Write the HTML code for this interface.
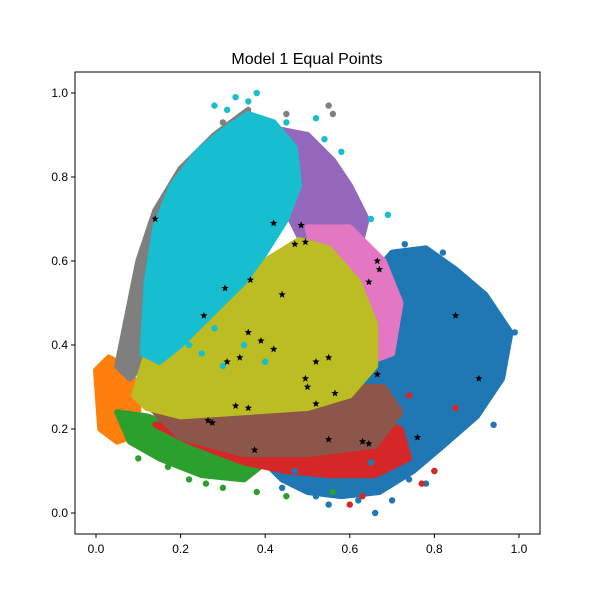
<!DOCTYPE html>
<html><head><meta charset="utf-8"><style>
body{margin:0;background:#fff}
svg{display:block;font-family:"Liberation Sans","DejaVu Sans",sans-serif}
</style></head><body>
<svg id="chart" width="600" height="600">
<rect width="600" height="600" fill="#fff"/>
<text x="307" y="64" font-size="16" text-anchor="middle">Model 1 Equal Points</text>
<g id="plot"></g>
<g id="axes"></g>
</svg>
<script>
const clusterNames=["blue","orange","green","red","purple","brown","pink","gray","olive","cyan"];
const clusterColors=["#1f77b4","#ff7f0e","#2ca02c","#d62728","#9467bd","#8c564b","#e377c2","#7f7f7f","#bcbd22","#17becf"];
const blueHull=[[0.4,0.12],[0.5,0.16],[0.58,0.25],[0.6,0.4],[0.64,0.55],[0.7,0.62],[0.78,0.63],[0.85,0.58],[0.92,0.52],[0.98,0.43],[0.96,0.32],[0.9,0.23],[0.82,0.16],[0.75,0.1],[0.67,0.05],[0.58,0.04],[0.5,0.05],[0.44,0.08]];
const orangeHull=[[0.0,0.34],[0.03,0.37],[0.07,0.35],[0.1,0.3],[0.1,0.22],[0.08,0.18],[0.05,0.17],[0.01,0.2]];
const greenHull=[[0.05,0.24],[0.12,0.23],[0.25,0.19],[0.35,0.16],[0.4,0.12],[0.35,0.08],[0.25,0.09],[0.15,0.13],[0.08,0.17]];
const redHull=[[0.14,0.21],[0.3,0.22],[0.5,0.2],[0.66,0.22],[0.72,0.2],[0.74,0.13],[0.66,0.09],[0.55,0.09],[0.45,0.1],[0.35,0.12],[0.22,0.17]];
const purpleHull=[[0.4,0.92],[0.5,0.9],[0.56,0.84],[0.6,0.78],[0.64,0.7],[0.62,0.62],[0.5,0.62],[0.45,0.72]];
const brownHull=[[0.12,0.26],[0.25,0.26],[0.45,0.27],[0.6,0.3],[0.68,0.3],[0.72,0.24],[0.66,0.16],[0.5,0.14],[0.35,0.14],[0.2,0.18]];
const pinkHull=[[0.5,0.68],[0.6,0.68],[0.68,0.6],[0.72,0.5],[0.7,0.38],[0.62,0.35],[0.55,0.45]];
const grayHull=[[0.05,0.35],[0.07,0.45],[0.1,0.6],[0.14,0.72],[0.2,0.82],[0.28,0.9],[0.36,0.96],[0.3,0.7],[0.15,0.4],[0.08,0.32]];
const oliveHull=[[0.09,0.28],[0.12,0.38],[0.2,0.42],[0.3,0.5],[0.4,0.6],[0.48,0.65],[0.55,0.63],[0.62,0.55],[0.66,0.45],[0.66,0.35],[0.6,0.28],[0.5,0.25],[0.35,0.24],[0.2,0.23],[0.12,0.25]];
const cyanHull=[[0.11,0.38],[0.12,0.55],[0.14,0.68],[0.18,0.78],[0.24,0.86],[0.3,0.91],[0.36,0.95],[0.42,0.93],[0.47,0.87],[0.48,0.78],[0.45,0.7],[0.4,0.62],[0.35,0.55],[0.3,0.5],[0.25,0.45],[0.2,0.4],[0.15,0.36]];
const hulls=[blueHull,orangeHull,greenHull,redHull,purpleHull,brownHull,pinkHull,grayHull,oliveHull,cyanHull];
const blueDotsX=[0.99,0.97,0.95,0.94,0.92,0.9,0.88,0.85,0.83,0.8,0.78,0.74,0.7,0.66,0.62,0.59,0.55,0.52,0.5,0.47,0.44,0.87,0.82,0.79,0.76,0.73,0.69,0.65];
const blueDotsY=[0.43,0.38,0.47,0.21,0.35,0.28,0.55,0.5,0.18,0.1,0.07,0.08,0.03,0.0,0.03,0.05,0.02,0.04,0.07,0.1,0.06,0.24,0.62,0.58,0.6,0.64,0.36,0.12];
const cyanDotsX=[0.38,0.33,0.28,0.45,0.52,0.54,0.58,0.65,0.69,0.31,0.36,0.25,0.3,0.35,0.4,0.22,0.28];
const cyanDotsY=[1.0,0.99,0.97,0.93,0.94,0.89,0.86,0.7,0.71,0.96,0.98,0.38,0.35,0.4,0.36,0.4,0.44];
const grayDotsX=[0.55,0.56,0.3,0.45];
const grayDotsY=[0.97,0.95,0.93,0.95];
const greenDotsX=[0.1,0.17,0.22,0.3,0.38,0.26,0.45,0.56];
const greenDotsY=[0.13,0.11,0.08,0.06,0.05,0.07,0.04,0.05];
const redDotsX=[0.6,0.63,0.77,0.8,0.85,0.74];
const redDotsY=[0.02,0.04,0.07,0.1,0.25,0.28];
const starX=[0.14,0.42,0.485,0.47,0.495,0.305,0.365,0.44,0.255,0.36,0.39,0.42,0.31,0.34,0.52,0.55,0.495,0.5,0.565,0.52,0.33,0.36,0.265,0.275,0.375,0.55,0.63,0.645,0.76,0.665,0.67,0.645,0.665,0.85,0.905];
const starY=[0.70,0.69,0.685,0.64,0.645,0.535,0.555,0.52,0.47,0.43,0.41,0.39,0.36,0.37,0.36,0.37,0.32,0.30,0.285,0.26,0.255,0.25,0.22,0.215,0.15,0.175,0.17,0.165,0.18,0.60,0.58,0.55,0.33,0.47,0.32];
const xTicks=[0,0.2,0.4,0.6,0.8,1.0];
const yTicks=[0,0.2,0.4,0.6,0.8,1.0];
const xTickLabels=["0.0","0.2","0.4","0.6","0.8","1.0"];
const yTickLabels=["0.0","0.2","0.4","0.6","0.8","1.0"];

const NS="http://www.w3.org/2000/svg";
const L=75,R=540,T=72,B=534;
const sx=v=>96+v*423;
const sy=v=>513-v*420;
const plot=document.getElementById('plot');
const axes=document.getElementById('axes');
function mk(tag,attrs,parent){const e=document.createElementNS(NS,tag);for(const k in attrs)e.setAttribute(k,attrs[k]);parent.appendChild(e);return e;}

hulls.forEach((h,i)=>{
  const p=mk('polygon',{points:h.map(q=>sx(q[0])+','+sy(q[1])).join(' '),fill:clusterColors[i],stroke:clusterColors[i],'stroke-width':6,'stroke-linejoin':'round'},plot);
  
  
});
function dots(xs,ys,col,name){
  xs.forEach((x,i)=>{
    const c=mk('circle',{cx:sx(x),cy:sy(ys[i]),r:3.2,fill:col},plot);
    
    
  });
}
dots(blueDotsX,blueDotsY,clusterColors[0],'blue-point');
dots(greenDotsX,greenDotsY,clusterColors[2],'green-point');
dots(redDotsX,redDotsY,clusterColors[3],'red-point');
dots(grayDotsX,grayDotsY,clusterColors[7],'gray-point');
dots(cyanDotsX,cyanDotsY,clusterColors[9],'cyan-point');
function starPts(cx,cy,r){let s=[];for(let k=0;k<10;k++){const a=-Math.PI/2+k*Math.PI/5;const rr=k%2?r*0.45:r;s.push((cx+rr*Math.cos(a)).toFixed(1)+','+(cy+rr*Math.sin(a)).toFixed(1));}return s.join(' ');}
starX.forEach((x,i)=>{
  const s=mk('polygon',{points:starPts(sx(x),sy(starY[i]),3.8),fill:'#000'},plot);
  
  
});

const frame=mk('rect',{x:L,y:T,width:R-L,height:B-T,fill:'none',stroke:'#000','stroke-width':1},axes);


xTicks.forEach((v,i)=>{
  const t=mk('line',{x1:sx(v),x2:sx(v),y1:B,y2:B+4,stroke:'#000'},axes);
  
  
  const l=mk('text',{x:sx(v),y:B+19,'font-size':12,'text-anchor':'middle'},axes);
  l.textContent=xTickLabels[i];
  
  
});
yTicks.forEach((v,i)=>{
  const t=mk('line',{x1:L-4,x2:L,y1:sy(v),y2:sy(v),stroke:'#000'},axes);
  
  
  const l=mk('text',{x:L-7,y:sy(v)+4,'font-size':12,'text-anchor':'end'},axes);
  l.textContent=yTickLabels[i];
  
  
});
</script>
</body></html>
